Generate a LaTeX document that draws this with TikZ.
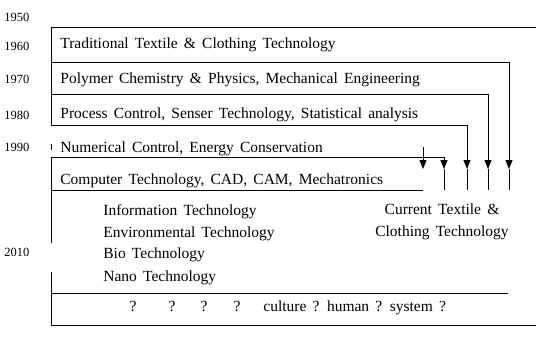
\documentclass[tikz,border=0pt]{standalone}
\usepackage{fontspec}
\setmainfont{Liberation Serif}[WordSpace=1.6]
\usetikzlibrary{arrows.meta}
\usetikzlibrary{positioning}

\begin{document}
\begin{tikzpicture}[x=1pt,y=-1pt,>={Triangle[width=7pt,length=9pt]},
  line width=0.8pt,
  year/.style={anchor=base west,inner sep=0pt,font=\fontsize{12.5}{12.5}\selectfont},
  row/.style={anchor=base west,inner sep=0pt,font=\fontsize{15.5}{15.5}\selectfont},
  new/.style={row}]

  \useasboundingbox (0,0) rectangle (536,345);

  % years on the left
  \node[year] (y1950) at (4,22) {1950};
  \node[year] (y1960) at (4,51) {1960};
  \node[year] (y1970) at (4,84) {1970};
  \node[year] (y1980) at (4,119) {1980};
  \node[year] (y1990) at (4,151) {1990};
  \node[year] (y2010) at (4,256) {2010};

  % one row per decade
  \node[row] (trad) at (60,49) {Traditional Textile \& Clothing Technology};
  \node[row] (poly) at (60,84) {Polymer Chemistry \& Physics, Mechanical Engineering};
  \node[row] (proc) at (60,118) {Process Control, Senser Technology, Statistical analysis};
  \node[row] (num) at (60,152) {Numerical Control, Energy Conservation};
  \node[row] (comp) at (60,184) {Computer Technology, CAD, CAM, Mechatronics};

  \node[new] (info) at (103,215) {Information Technology};
  \node[new] (env) at (103,237) {Environmental Technology};
  \node[new] (bio) at (103,258) {Bio Technology};
  \node[new] (nano) at (103,281) {Nano Technology};

  \node[new,anchor=base] (cur1) at (442,214) {Current Textile \&};
  \node[new,anchor=base] (cur2) at (442,236) {Clothing Technology};

  \node[new,anchor=base] (q1) at (133,311) {?};
  \node[new,anchor=base] (q2) at (172,311) {?};
  \node[new,anchor=base] (q3) at (204,311) {?};
  \node[new,anchor=base] (q4) at (237,311) {?};
  \node[new] (cul) at (263,311) {culture ? human ? system ?};

  % time axis
  \coordinate (top-l) at (51,27);
  \coordinate (top-r) at (536,27);
  \draw (top-l) -- (top-r);
  \draw (top-l) -- (51,125);
  \draw (51,144) -- (51,150);
  \draw (51,157) -- (51,243);
  \draw (51,272) -- (51,325);

  % row lines turning down into arrows
  \foreach \n/\y/\x in {a/62/509, b/94/488, c/125/467, d/157/444} {
    \coordinate (\n-start) at (51,\y);
    \coordinate (\n-turn) at (\x,\y);
    \coordinate (\n-tip) at (\x,169);
    \coordinate (\n-end) at (\x,190);
    \draw[->] (\n-start) -- (\n-turn) -- (\n-tip);
    \draw (\n-tip) -- (\n-end);
  }
  \coordinate (e-start) at (423,147);
  \coordinate (e-tip) at (423,169);
  \draw[->] (e-start) -- (e-tip);
  \draw (51,190) -- (423,190);

  % box for the future
  \coordinate (box-tl) at (51,293);
  \coordinate (box-tr) at (508,293);
  \coordinate (box-bl) at (51,325);
  \coordinate (box-br) at (536,325);
  \draw (box-tr) -- (box-tl) -- (box-bl) -- (box-br);
\end{tikzpicture}
\end{document}
